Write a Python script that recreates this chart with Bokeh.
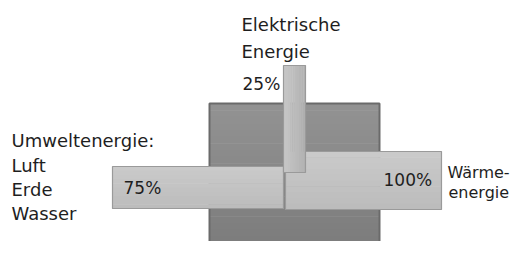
from bokeh.plotting import figure
from bokeh.models import Range1d
from bokeh.core.properties import value
from bokeh.embed import file_html
from bokeh.resources import INLINE

# --- data ---
flow_names = ["Umweltenergie", "Elektrische Energie", "Wärmeenergie"]
flow_shares = [75, 25, 100]
share_labels = [f"{s}%" for s in flow_shares]
source_lines = ["Umweltenergie:", "Luft", "Erde", "Wasser"]
electric_lines = ["Elektrische", "Energie"]
heat_lines = ["Wärme-", "energie"]

# --- layout (pixel-like data space) ---
box = dict(left=209, right=379, top=103, bottom=262)
bar_left = dict(left=112, right=283, top=166, bottom=208)
bar_right = dict(left=285, right=441, top=151, bottom=209)
bar_up = dict(left=283, right=305, top=65, bottom=172)

p = figure(width=512, height=241, output_backend="svg", toolbar_location=None,
           x_range=Range1d(0, 512), y_range=Range1d(241, 0),
           min_border=0)
p.axis.visible = False
p.grid.visible = False
p.outline_line_color = None
p.background_fill_color = "white"
p.border_fill_color = "white"

# gradient box (strips)
n = 24
t, b = box["top"], box["bottom"]
h = (b - t) / n
tops = [t + i * h for i in range(n)]
bots = [t + (i + 1) * h + 0.5 for i in range(n)]
cols = []
for i in range(n):
    g = int(round(0x92 - (0x92 - 0x7a) * i / (n - 1)))
    cols.append("#%02x%02x%02x" % (g, g, g))
p.quad(left=[box["left"]] * n, right=[box["right"]] * n, top=tops, bottom=bots,
       fill_color=cols, line_color=None)
p.quad(left=[box["left"]], right=[box["right"]], top=[box["top"]], bottom=[box["bottom"]],
       fill_color=None, line_color="#6a6a6a", line_width=2)


def grad_bar(d, c_top, c_bot, edge, n=10, horizontal=True):
    if horizontal:
        t, b = d["top"], d["bottom"]
        hh = (b - t) / n
        cs = []
        for i in range(n):
            g = int(round(c_top - (c_top - c_bot) * i / (n - 1)))
            cs.append("#%02x%02x%02x" % (g, g, g))
        p.quad(left=[d["left"]] * n, right=[d["right"]] * n,
               top=[t + i * hh for i in range(n)],
               bottom=[t + (i + 1) * hh + 0.4 for i in range(n)],
               fill_color=cs, line_color=None)
    else:
        l, r = d["left"], d["right"]
        ww = (r - l) / n
        cs = []
        for i in range(n):
            g = int(round(c_top - (c_top - c_bot) * i / (n - 1)))
            cs.append("#%02x%02x%02x" % (g, g, g))
        p.quad(left=[l + i * ww for i in range(n)],
               right=[l + (i + 1) * ww + 0.4 for i in range(n)],
               top=[d["top"]] * n, bottom=[d["bottom"]] * n,
               fill_color=cs, line_color=None)
    p.quad(left=[d["left"]], right=[d["right"]], top=[d["top"]], bottom=[d["bottom"]],
           fill_color=None, line_color=edge, line_width=1.2)


grad_bar(bar_left, 0xca, 0xbc, "#9a9a9a")
grad_bar(bar_right, 0xca, 0xbc, "#9a9a9a")
grad_bar(bar_up, 0xc6, 0xb2, "#9a9a9a", horizontal=False)

font = value("DejaVu Sans")
tc = "#1e1e1e"


def label(xs, ys, texts, size="18px"):
    p.text(x=xs, y=ys, text=texts, text_font=font, text_font_size=size,
           text_color=tc, text_align="left", text_baseline="alphabetic")


label([11] * 4, [140, 164.5, 188.5, 212.5], source_lines)
label([241, 241], [24, 50.5], electric_lines)
label([447, 448], [172, 192], heat_lines, size="16px")
# share labels: Umwelt, Elektrisch, Wärme
label([123, 242, 383], [187, 83, 179], share_labels, size="17px")

open("out.html", "w").write(file_html(p, INLINE))
